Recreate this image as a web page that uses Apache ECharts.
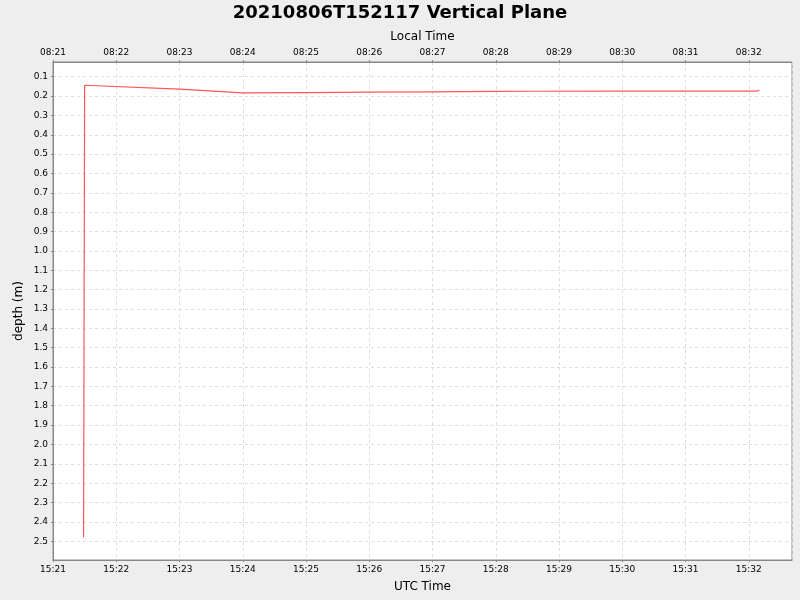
<!DOCTYPE html>
<html>
<head>
<meta charset="utf-8">
<script src="https://cdn.jsdelivr.net/npm/echarts@6/dist/echarts.min.js"></script>
<style>
  html, body { margin: 0; padding: 0; background: #eeeeee; }
  #main { width: 800px; height: 600px; }
</style>
</head>
<body>
<div id="main"></div>
<script>
// 深度数据 (UTC 时间, 米)
var day = [2021, 7, 6];
var utcTimes = ['15:21:29', '15:21:30', '15:23:00', '15:23:01', '15:24:00', '15:25:00', '15:26:00',
                '15:27:00', '15:28:00', '15:28:30', '15:30:00', '15:32:08', '15:32:10'];
var depth = [2.48, 0.144, 0.164, 0.170, 0.184, 0.182, 0.180, 0.178, 0.176, 0.175, 0.174, 0.174, 0.169];
var localOffsetHours = -7;   // 当地时间 = UTC - 7

function toMs(t) {
    var p = t.split(':');
    return Date.UTC(day[0], day[1], day[2], +p[0], +p[1], +p[2]);
}
function hhmm(ms) {
    var d = new Date(ms);
    var h = d.getUTCHours(), m = d.getUTCMinutes();
    return (h < 10 ? '0' : '') + h + ':' + (m < 10 ? '0' : '') + m;
}

var xMin = toMs('15:21:00');
var xMax = toMs('15:32:41');
var seriesData = utcTimes.map(function (t, i) { return [toMs(t), depth[i]]; });

var font = 'DejaVu Sans';
var chart = echarts.init(document.getElementById('main'));
chart.setOption({
    backgroundColor: '#eeeeee',
    animation: false,
    title: {
        text: '20210806T152117 Vertical Plane',
        left: 'center',
        top: -1,
        textStyle: { fontFamily: font, fontSize: 18, fontWeight: 'bold', color: '#000' }
    },
    grid: {
        left: 53, right: 8, top: 62, bottom: 40,
        show: true,
        backgroundColor: '#ffffff',
        borderColor: '#888888',
        borderWidth: 1
    },
    xAxis: [
        {
            type: 'value',
            position: 'bottom',
            min: xMin, max: xMax, interval: 60000,
            name: 'UTC Time',
            nameLocation: 'middle',
            nameGap: 21,
            nameTextStyle: { fontFamily: font, fontSize: 12, color: '#000' },
            axisLine: { show: true, lineStyle: { color: '#888888' } },
            axisTick: { show: true, length: 2, lineStyle: { color: '#888888' } },
            axisLabel: {
                fontFamily: font, fontSize: 9, color: '#000', margin: 5,
                showMaxLabel: false,
                formatter: function (v) { return hhmm(v); }
            },
            splitLine: { show: true, lineStyle: { color: '#dddddd', type: [3, 3] } }
        },
        {
            type: 'value',
            position: 'top',
            min: xMin, max: xMax, interval: 60000,
            name: 'Local Time',
            nameLocation: 'middle',
            nameGap: 18,
            nameTextStyle: { fontFamily: font, fontSize: 12, color: '#000' },
            axisLine: { show: true, lineStyle: { color: '#888888' } },
            axisTick: { show: true, length: 2, lineStyle: { color: '#888888' } },
            axisLabel: {
                fontFamily: font, fontSize: 9, color: '#000', margin: 5,
                showMaxLabel: false,
                formatter: function (v) { return hhmm(v + localOffsetHours * 3600000); }
            },
            splitLine: { show: false }
        }
    ],
    yAxis: {
        type: 'value',
        inverse: true,
        min: 0.024, max: 2.597,
        splitNumber: 25,
        name: 'depth (m)',
        nameLocation: 'middle',
        nameGap: 28,
        nameMoveOverlap: false,
        nameTextStyle: { fontFamily: font, fontSize: 12, color: '#000' },
        axisLine: { show: true, lineStyle: { color: '#888888' } },
        axisTick: { show: true, length: 2, lineStyle: { color: '#888888' } },
        axisLabel: {
            fontFamily: font, fontSize: 9, color: '#000', margin: 5,
            showMinLabel: false, showMaxLabel: false,
            formatter: function (v) { return v.toFixed(1); }
        },
        splitLine: { show: true, lineStyle: { color: '#dddddd', type: [3, 3] } }
    },
    series: [
        {
            name: 'depth',
            type: 'line',
            xAxisIndex: 0,
            data: seriesData,
            showSymbol: false,
            lineStyle: { color: '#ff5555', width: 1.2 },
            itemStyle: { color: '#ff5555' }
        }
    ]
});
</script>
</body>
</html>
